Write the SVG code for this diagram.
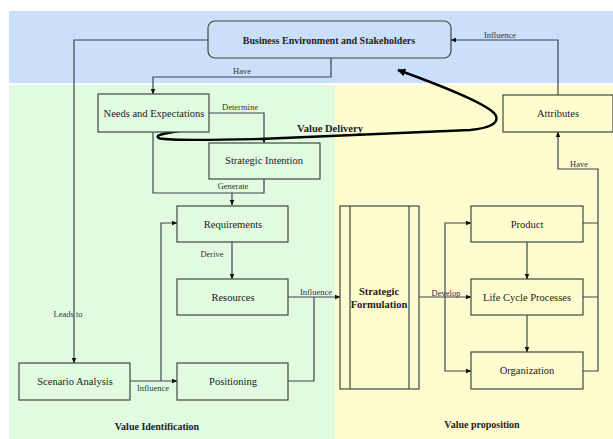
<svg xmlns="http://www.w3.org/2000/svg" width="613" height="439" viewBox="0 0 613 439">
<style>
.node{stroke:#3f4a3f;stroke-width:1.2}
.t{font-family:"Liberation Serif","Times New Roman",serif;font-size:10.5px;fill:#222;text-anchor:middle}
.b{font-weight:bold}
.el{font-family:"Liberation Serif","Times New Roman",serif;font-size:8.5px;fill:#333;text-anchor:middle}
.c{fill:none;stroke:#3d4550;stroke-width:1.2}
</style>
<defs>
<marker id="ar" viewBox="0 0 10 10" refX="9" refY="5" markerWidth="6" markerHeight="6" orient="auto" markerUnits="userSpaceOnUse">
<path d="M0,1 L10,5 L0,9 z" fill="#111"/>
</marker>
<marker id="big" viewBox="0 0 10 10" refX="9" refY="5" markerWidth="10" markerHeight="8" orient="auto" markerUnits="userSpaceOnUse">
<path d="M0,0 L10,5 L0,10 z" fill="#000"/>
</marker>
</defs>
<rect x="0" y="0" width="613" height="439" fill="#fff"/>
<rect x="9" y="11" width="604" height="72" fill="#c9dffa"/>
<rect x="9" y="85" width="326" height="354" fill="#e1fbe1"/>
<rect x="335" y="85" width="278" height="354" fill="#fffdcf"/>

<g id="connectors">
<path class="c" d="M208,40 H74 V363" marker-end="url(#ar)"/>
<path class="c" d="M331,58 V77 H153 V94" marker-end="url(#ar)"/>
<path class="c" d="M209,113 H264 V143" marker-end="url(#ar)"/>
<path class="c" d="M153,132 V193 H264 V179"/>
<path class="c" d="M232,193 V205" marker-end="url(#ar)"/>
<path class="c" d="M232,242 V279" marker-end="url(#ar)"/>
<path class="c" d="M288,297 H340" marker-end="url(#ar)"/>
<path class="c" d="M288,381 H314 V297"/>
<path class="c" d="M130,381 H177" marker-end="url(#ar)"/>
<path class="c" d="M161,381 V223 H177" marker-end="url(#ar)"/>
<path class="c" d="M419,297 H471" marker-end="url(#ar)"/>
<path class="c" d="M445,297 V223 H471" marker-end="url(#ar)"/>
<path class="c" d="M445,297 V371 H471" marker-end="url(#ar)"/>
<path class="c" d="M527,242 V279" marker-end="url(#ar)"/>
<path class="c" d="M527,315 V352" marker-end="url(#ar)"/>
<path class="c" d="M583,223 H598 M583,297 H598 M583,371 H598 V169 H558 V132" marker-end="url(#ar)"/>
<path class="c" d="M558,95 V40 H451" marker-end="url(#ar)"/>
<path d="M180,131 Q150,135 160,138.5 Q172,141 260,139 L470,130 Q500,127 496,116 Q492,104 398,70" fill="none" stroke="#000" stroke-width="2.4" marker-end="url(#big)"/>
<text class="el" x="242" y="74">Have</text>
<text class="el" x="240" y="110">Determine</text>
<text class="el" x="233" y="189">Generate</text>
<text class="el" x="212" y="257">Derive</text>
<text class="el" x="316" y="295">Influence</text>
<text class="el" x="68" y="317">Leads to</text>
<text class="el" x="153" y="391">Influence</text>
<text class="el" x="446" y="296">Develop</text>
<text class="el" x="579" y="167">Have</text>
<text class="el" x="500" y="38">Influence</text>
<text class="t b" x="330" y="132" style="font-size:10.5px">Value Delivery</text>
</g>

<g id="business"><rect class="node" x="208" y="21" width="243" height="37" rx="7" fill="#c9dffa" stroke="#444"/><text class="t b" x="329" y="44" style="font-size:10px">Business Environment and Stakeholders</text></g>
<g id="needs"><rect class="node" x="98" y="94" width="111" height="38" fill="#e1fbe1"/><text class="t" x="154" y="117">Needs and Expectations</text></g>
<g id="intention"><rect class="node" x="209" y="143" width="111" height="36" fill="#e1fbe1"/><text class="t" x="264" y="164">Strategic  Intention</text></g>
<g id="requirements"><rect class="node" x="177" y="206" width="111" height="36" fill="#e1fbe1"/><text class="t" x="233" y="228">Requirements</text></g>
<g id="resources"><rect class="node" x="177" y="279" width="111" height="36" fill="#e1fbe1"/><text class="t" x="233" y="301">Resources</text></g>
<g id="positioning"><rect class="node" x="177" y="363" width="111" height="37" fill="#e1fbe1"/><text class="t" x="233" y="385">Positioning</text></g>
<g id="scenario"><rect class="node" x="19" y="363" width="111" height="37" fill="#e1fbe1"/><text class="t" x="75" y="385">Scenario Analysis</text></g>
<g id="formulation"><rect class="node" x="340" y="206" width="79" height="183" fill="#fffdcf"/><line class="node" x1="350" y1="206" x2="350" y2="389"/><line class="node" x1="409" y1="206" x2="409" y2="389"/><text class="t b" x="379" y="295">Strategic</text><text class="t b" x="379" y="308">Formulation</text></g>
<g id="product"><rect class="node" x="471" y="206" width="112" height="36" fill="#fffdcf"/><text class="t" x="527" y="228">Product</text></g>
<g id="lifecycle"><rect class="node" x="471" y="279" width="112" height="36" fill="#fffdcf"/><text class="t" x="527" y="301">Life Cycle Processes</text></g>
<g id="organization"><rect class="node" x="471" y="352" width="112" height="37" fill="#fffdcf"/><text class="t" x="527" y="374">Organization</text></g>
<g id="attributes"><rect class="node" x="503" y="95" width="110" height="37" fill="#fffdcf"/><text class="t" x="558" y="117">Attributes</text></g>

<text class="t b" x="157" y="430" style="font-size:10px">Value Identification</text>
<text class="t b" x="482" y="428" style="font-size:10px">Value proposition</text>
</svg>
